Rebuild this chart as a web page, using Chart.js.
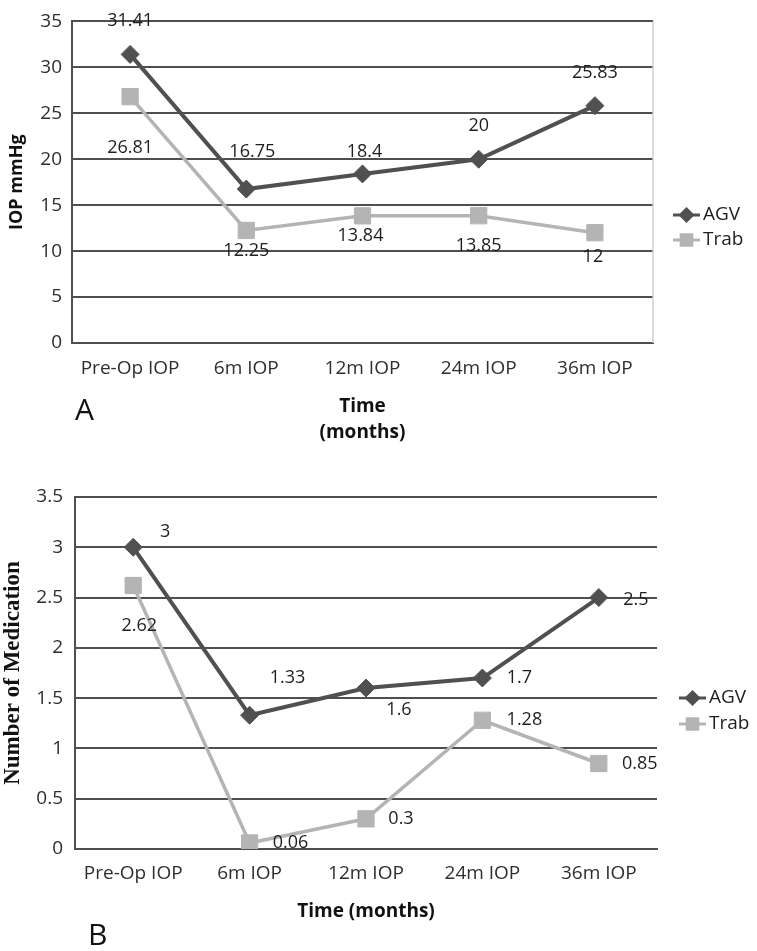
<!DOCTYPE html>
<html>
<head>
<meta charset="utf-8">
<title>IOP and medication after AGV vs Trab</title>
<script src="https://cdn.jsdelivr.net/npm/chart.js@4.4.0/dist/chart.umd.min.js"></script>
<style>
  body { margin: 0; background: #fff; }
  .panel { position: absolute; left: 0; width: 757px; }
  #panelA { top: 0; height: 460px; }
  #panelB { top: 460px; height: 491px; }
</style>
</head>
<body>
<div class="panel" id="panelA"><canvas id="chartA"></canvas></div>
<div class="panel" id="panelB"><canvas id="chartB"></canvas></div>
<script>
// Data
const categories = ['Pre-Op IOP', '6m IOP', '12m IOP', '24m IOP', '36m IOP'];
const iopAgv = [31.41, 16.75, 18.4, 20, 25.83];
const iopTrab = [26.81, 12.25, 13.84, 13.85, 12];
const medAgv = [3, 1.33, 1.6, 1.7, 2.5];
const medTrab = [2.62, 0.06, 0.3, 1.28, 0.85];
const iopTicks = [0, 5, 10, 15, 20, 25, 30, 35];
const medTicks = [0, 0.5, 1, 1.5, 2, 2.5, 3, 3.5];

const FONT = '"Open Sans", sans-serif';
const AGV_COLOR = '#505050';
const TRAB_COLOR = '#b4b4b4';
const GRID_COLOR = '#4f4f4f';

// value labels, legend, panel letter and right frame line
const extrasPlugin = {
    id: 'extras',
    afterDatasetsDraw(chart, args, opts) {
        const ctx = chart.ctx;
        const area = chart.chartArea;
        ctx.save();

        if (opts.rightBorder) {
            ctx.strokeStyle = '#cfcfcf';
            ctx.lineWidth = 1.5;
            ctx.beginPath();
            ctx.moveTo(area.right, area.top);
            ctx.lineTo(area.right, area.bottom);
            ctx.stroke();
        }

        // point value labels
        ctx.font = '18px ' + FONT;
        ctx.fillStyle = '#1e1e1e';
        ctx.textAlign = 'center';
        ctx.textBaseline = 'middle';
        chart.data.datasets.forEach((ds, i) => {
            const meta = chart.getDatasetMeta(i);
            meta.data.forEach((pt, j) => {
                const off = opts.labelOffsets[i][j];
                ctx.fillText(String(ds.data[j]), pt.x + off[0], pt.y + off[1]);
            });
        });

        // legend
        const lg = opts.legend;
        chart.data.datasets.forEach((ds, i) => {
            const y = lg.rows[i];
            ctx.strokeStyle = ds.borderColor;
            ctx.lineWidth = 3;
            ctx.beginPath();
            ctx.moveTo(lg.x0, y);
            ctx.lineTo(lg.x0 + 27, y);
            ctx.stroke();
            ctx.fillStyle = ds.pointBackgroundColor;
            ctx.strokeStyle = ds.borderColor;
            Chart.helpers.drawPoint(ctx, {
                pointStyle: ds.pointStyle,
                radius: ds.pointStyle === 'rect' ? 7.5 : 6,
                rotation: 0,
                borderWidth: 1
            }, lg.x0 + 13.5, y);
            ctx.fillStyle = '#1e1e1e';
            ctx.font = '19px ' + FONT;
            ctx.textAlign = 'left';
            ctx.textBaseline = 'middle';
            ctx.fillText(ds.label, lg.x0 + 30, y);
        });

        // panel letter
        ctx.font = '30px ' + FONT;
        ctx.fillStyle = '#111';
        ctx.textAlign = 'left';
        ctx.textBaseline = 'middle';
        ctx.fillText(opts.letter.text, opts.letter.x, opts.letter.y);

        ctx.restore();
    }
};

function makeDatasets(agv, trab) {
    return [{
        label: 'AGV',
        data: agv,
        borderColor: AGV_COLOR,
        backgroundColor: AGV_COLOR,
        pointBackgroundColor: AGV_COLOR,
        pointBorderColor: AGV_COLOR,
        borderWidth: 4,
        pointStyle: 'rectRot',
        pointRadius: 9,
        pointBorderWidth: 1,
        tension: 0
    }, {
        label: 'Trab',
        data: trab,
        borderColor: TRAB_COLOR,
        backgroundColor: TRAB_COLOR,
        pointBackgroundColor: TRAB_COLOR,
        pointBorderColor: TRAB_COLOR,
        borderWidth: 3.5,
        pointStyle: 'rect',
        pointRadius: 11.5,
        pointBorderWidth: 1,
        tension: 0
    }];
}

function makeOptions(cfg) {
    return {
        responsive: true,
        maintainAspectRatio: false,
        animation: false,
        layout: { padding: cfg.padding },
        plugins: {
            legend: { display: false },
            tooltip: { enabled: false },
            extras: cfg.extras
        },
        scales: {
            x: {
                type: 'category',
                offset: true,
                grid: { display: false, drawTicks: false },
                border: { display: true, color: GRID_COLOR, width: 2 },
                ticks: { color: '#2e2e2e', font: { family: FONT, size: 19 }, padding: cfg.xTickPad, maxRotation: 0 },
                title: {
                    display: true,
                    text: cfg.xTitle,
                    color: '#111',
                    font: { family: FONT, size: 19, weight: 'bold', lineHeight: cfg.xTitleLH },
                    padding: { top: 4, bottom: 4 }
                },
                afterFit: scale => { scale.height = cfg.xHeight; }
            },
            y: {
                min: cfg.ticks[0],
                max: cfg.ticks[cfg.ticks.length - 1],
                afterBuildTicks: axis => { axis.ticks = cfg.ticks.map(v => ({ value: v })); },
                grid: { color: GRID_COLOR, lineWidth: 2, drawTicks: false },
                border: { display: true, color: GRID_COLOR, width: 2 },
                ticks: {
                    color: '#2e2e2e',
                    font: { family: FONT, size: 19 },
                    padding: cfg.yTickPad,
                    callback: v => String(v)
                },
                title: {
                    display: true,
                    text: cfg.yTitle,
                    color: '#111',
                    font: cfg.yTitleFont,
                    padding: { top: cfg.yTitlePad, bottom: 0 }
                },
                afterFit: scale => { scale.width = cfg.yWidth; }
            }
        }
    };
}

// Chart A - IOP
new Chart(document.getElementById('chartA'), {
    type: 'line',
    data: { labels: categories, datasets: makeDatasets(iopAgv, iopTrab) },
    plugins: [extrasPlugin],
    options: makeOptions({
        padding: { top: 11, right: 104, bottom: 10, left: 0 },
        xHeight: 107,
        yWidth: 72,
        xTickPad: 14,
        yTickPad: 10,
        ticks: iopTicks,
        xTitle: ['Time', '(months)'],
        xTitleLH: '26px',
        yTitle: 'IOP mmHg',
        yTitleFont: { family: FONT, size: 18, weight: 'bold', lineHeight: 1.2 },
        yTitlePad: 6,
        extras: {
            rightBorder: true,
            labelOffsets: [
                [[0, -34], [6, -37], [2, -22], [0, -33], [0, -33]],
                [[0, 51], [0, 20], [-2, 20], [0, 30], [-2, 24]]
            ],
            legend: { x0: 673, rows: [215, 240] },
            letter: { text: 'A', x: 75, y: 411 }
        }
    })
});

// Chart B - number of medications
new Chart(document.getElementById('chartB'), {
    type: 'line',
    data: { labels: categories, datasets: makeDatasets(medAgv, medTrab) },
    plugins: [extrasPlugin],
    options: makeOptions({
        padding: { top: 37, right: 100, bottom: 23.6, left: 0 },
        xHeight: 78.4,
        yWidth: 75,
        xTickPad: 13,
        yTickPad: 12,
        ticks: medTicks,
        xTitle: 'Time (months)',
        xTitleLH: 1.2,
        yTitle: 'Number of Medication',
        yTitleFont: { family: '"Liberation Serif", serif', size: 23, weight: 'bold', lineHeight: 1.1 },
        yTitlePad: 0,
        extras: {
            rightBorder: false,
            labelOffsets: [
                [[32, -15], [38, -37], [33, 22], [37, 0], [37, 2]],
                [[6, 40], [41, 0], [35, 0], [42, 0], [41, 0]]
            ],
            legend: { x0: 679, rows: [238, 264] },
            letter: { text: 'B', x: 88, y: 476 }
        }
    })
});
</script>
</body>
</html>
